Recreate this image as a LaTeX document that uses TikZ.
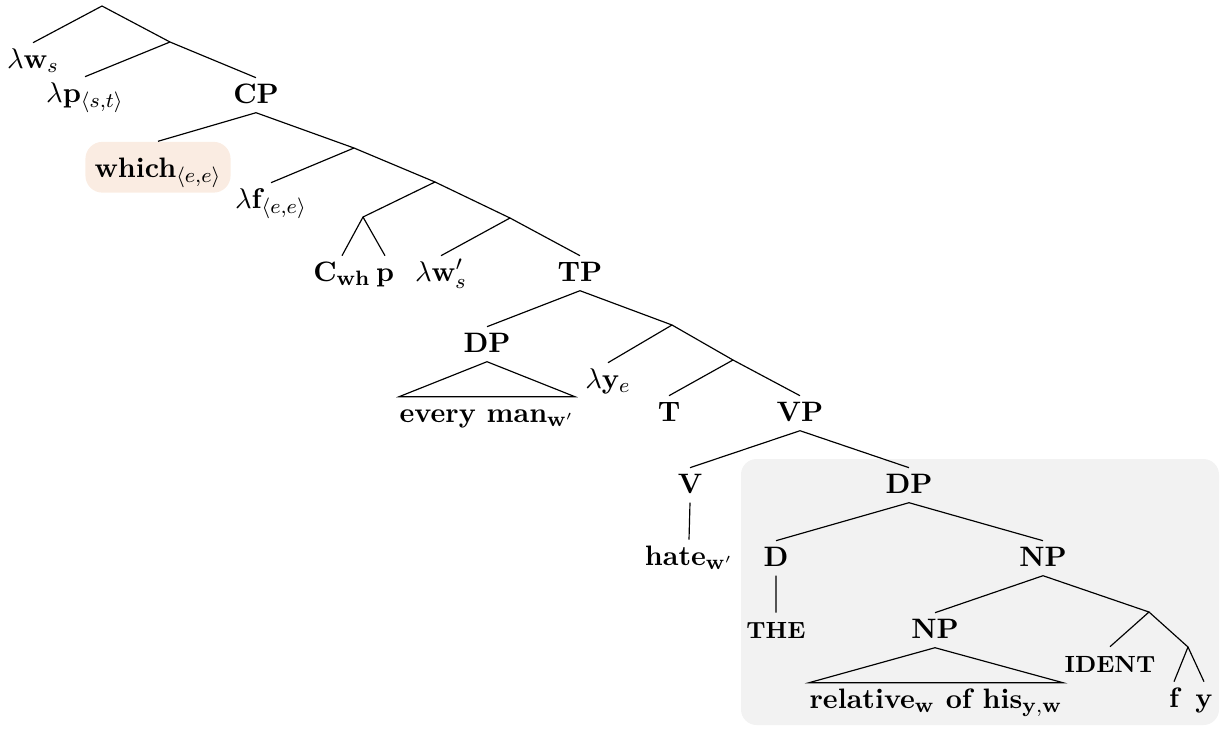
\documentclass[tikz,border=0pt]{standalone}
\usepackage{amsmath}

\definecolor{peach}{RGB}{250,236,226}
\definecolor{boxgray}{RGB}{242,242,242}

\tikzstyle{lbl} = [anchor=base, font=\fontsize{10.8}{12}\selectfont\bfseries, text height=7.5pt, text depth=1.5pt, inner xsep=1pt, inner ysep=2pt]
\tikzstyle{smallcap} = [lbl, font=\fontsize{9}{10}\selectfont\bfseries]
\tikzstyle{roof} = [lbl, inner xsep=0pt]
\tikzstyle{hilite} = [lbl, fill=peach, rounded corners=6.5pt, text depth=0pt, inner xsep=3.5pt, inner ysep=6pt]

\begin{document}
\begin{tikzpicture}[x=0.0135cm, y=-0.0135cm, line width=0.45pt]
\useasboundingbox (0,0) rectangle (1226,729);
\fill[boxgray, rounded corners=6pt] (741,459) rectangle (1219,725);

\coordinate (r0) at (102,6);
\coordinate (x1) at (170,42);
\node[lbl] (lws) at (33,68) {$\lambda\mathbf{w}_s$};
\node[lbl] (lpst) at (85,102) {$\lambda\mathbf{p}_{\langle s,t\rangle}$};
\node[lbl] (cp) at (256,103) {CP};

\node[hilite] (which) at (158,177) {which$_{\langle e,e\rangle}$};
\coordinate (y1) at (354,148);
\node[lbl] (lf) at (271,208) {$\lambda\mathbf{f}_{\langle e,e\rangle}$};
\coordinate (y2) at (435,182);
\coordinate (z) at (363,217);
\coordinate (y3) at (510,218);
\node[lbl] (cwh) at (342,281) {C$_{\mathbf{wh}}$};
\node[lbl] (p) at (385,281) {p};
\node[lbl] (lwp) at (441,281) {$\lambda\mathbf{w}'_s$};
\node[lbl] (tp) at (580,281) {TP};

\node[lbl] (dpa) at (487,352) {DP};
\node[roof] (every) at (487,422) {every man$_{\mathbf{w'}}$};
\coordinate (w1) at (672,325);
\node[lbl] (ly) at (608,388) {$\lambda\mathbf{y}_e$};
\coordinate (w2) at (733,360);
\node[lbl] (t) at (669,421) {T};
\node[lbl] (vp) at (800,421) {VP};

\node[lbl] (v) at (690,493) {V};
\node[lbl] (hate) at (689,565) {hate$_{\mathbf{w'}}$};
\node[lbl] (dpb) at (909,493) {DP};
\node[lbl] (d) at (776,566) {D};
\node[lbl] (np) at (1043,566) {NP};
\node[smallcap] (the) at (776,638) {THE};
\node[lbl] (npb) at (935,638) {NP};
\node[roof] (rel) at (936,708) {relative$_{\mathbf{w}}$ of his$_{\mathbf{y,w}}$};
\coordinate (j1) at (1149,612);
\node[smallcap] (ident) at (1110,672) {IDENT};
\coordinate (j2) at (1188,647);
\node[lbl] (f) at (1174,707) {f};
\node[lbl] (yy) at (1204,707) {y};

\draw (r0) -- (lws.north) (r0) -- (x1) -- (lpst.north) (x1) -- (cp.north);
\draw (cp.south) -- (which.north) (cp.south) -- (y1) -- (lf.north) (y1) -- (y2);
\draw (y2) -- (z) -- (cwh.north) (z) -- (p.north) (y2) -- (y3) -- (lwp.north) (y3) -- (tp.north);
\draw (tp.south) -- (dpa.north) (tp.south) -- (w1) -- (ly.north) (w1) -- (w2) -- (t.north) (w2) -- (vp.north);
\draw (dpa.south) -- (every.north west) -- (every.north east) -- cycle;
\draw (vp.south) -- (v.north) (vp.south) -- (dpb.north) (v.south) -- (hate.north);
\draw (dpb.south) -- (d.north) (dpb.south) -- (np.north) (d.south) -- (the.north);
\draw (np.south) -- (npb.north) (np.south) -- (j1) -- (ident.north) (j1) -- (j2) -- (f.north) (j2) -- (yy.north);
\draw (npb.south) -- (rel.north west) -- (rel.north east) -- cycle;
\end{tikzpicture}
\end{document}
